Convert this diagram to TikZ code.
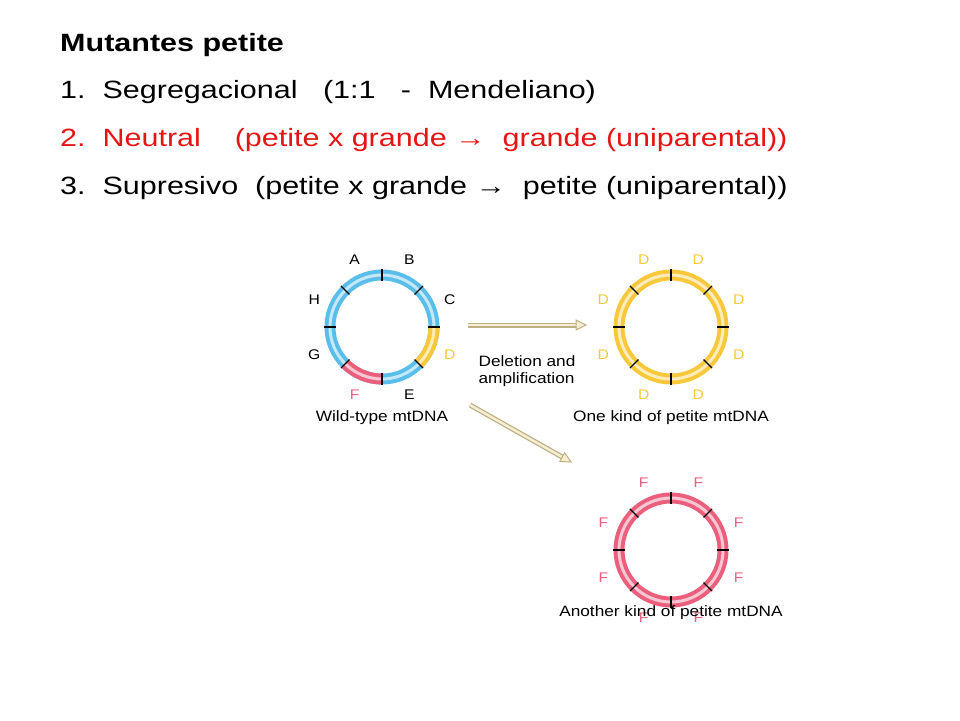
\documentclass[tikz,border=0pt]{standalone}
\usepackage{fontspec}
\setmainfont{Liberation Sans}
\usetikzlibrary{calc}
\definecolor{cb}{RGB}{90,190,235}
\definecolor{cy}{RGB}{248,200,60}
\definecolor{cp}{RGB}{235,95,125}
\definecolor{ar}{RGB}{190,175,130}
\definecolor{arf}{RGB}{245,238,210}
\definecolor{red1}{RGB}{230,20,20}
\begin{document}
\begin{tikzpicture}[x=1pt,y=1pt,
  line/.style={font=\fontsize{25}{28}\selectfont,anchor=base west,inner sep=0,xscale=1.22,transform shape},
  lab/.style={font=\fontsize{14}{16}\selectfont,inner sep=0,xscale=1.12,transform shape},
  captxt/.style={font=\fontsize{15}{17}\selectfont,inner sep=0,xscale=1.15,transform shape}]
\useasboundingbox (0,0) rectangle (960,-720);
\node[line,font=\fontsize{25}{28}\selectfont\bfseries] (t0) at (60,-51) {Mutantes petite};
\node[line] (t1) at (60,-98) {1.\ \ Segregacional\ \ \ (1:1\ \ \ -\ \ Mendeliano)};
\node[line,red1] (t2) at (60,-146) {2.\ \ Neutral\ \ \ \ (petite x grande → \ grande (uniparental))};
\node[line] (t3) at (60,-194) {3.\ \ Supresivo\ \ (petite x grande → \ petite (uniparental))};
\newcommand{\myseg}[4]{%
  \draw[line width=11,#4] ($#1+(#2:52)$) arc[start angle=#2,end angle=#3,radius=52];
  \draw[line width=3,#4!35] ($#1+(#2:52)$) arc[start angle=#2,end angle=#3,radius=52];}
\newcommand{\myticks}[1]{\foreach \a in {0,45,...,315}{\draw[line width=1.2] ($#1+(\a:46)$) -- ($#1+(\a:58)$);}}
\coordinate (w) at (382,-327);
\myseg{(w)}{0}{360}{cb}
\myseg{(w)}{0}{-45}{cy}
\myseg{(w)}{-90}{-135}{cp}
\myticks{(w)}
\foreach \l/\a in {A/112,B/68,C/22,G/-158,H/158,E/-68}{\node[lab] (w\l) at ($(w)+(\a:73)$) {\l};}
\node[lab,cy] (wD) at ($(w)+(-22:73)$) {D};
\node[lab,cp] (wF) at ($(w)+(-112:73)$) {F};
\node[captxt] (wc) at (382,-418) {Wild-type mtDNA};
\coordinate (y) at (671,-327);
\myseg{(y)}{0}{360}{cy}
\myticks{(y)}
\foreach \a in {22,68,112,158,-22,-68,-112,-158}{\node[lab,cy] at ($(y)+(\a:73)$) {D};}
\node[captxt] (yc) at (671,-418) {One kind of petite mtDNA};
\coordinate (p) at (671,-550);
\myseg{(p)}{0}{360}{cp}
\myticks{(p)}
\foreach \a in {22,68,112,158,-22,-68,-112,-158}{\node[lab,cp] at ($(p)+(\a:73)$) {F};}
\node[captxt] (pc) at (671,-613) {Another kind of petite mtDNA};
\coordinate (a1s) at (468,-325); \coordinate (a1e) at (586,-325);
\coordinate (a2s) at (470,-405); \coordinate (a2e) at (571,-462);
\foreach \s/\e in {a1s/a1e,a2s/a2e}{
  \draw[line width=5,ar] (\s) -- ($(\e)!9pt!(\s)$);
  \draw[line width=2.5,arf] (\s) -- ($(\e)!9pt!(\s)$);
  \draw[ar,fill=arf,line width=1] (\e) -- ($(\e)!10pt!(\s)!5pt!90:(\s)$) -- ($(\e)!10pt!(\s)!5pt!-90:(\s)$) -- cycle;
}
\node[captxt,align=left] (dl) at (527,-371) {Deletion and\\amplification};
\end{tikzpicture}
\end{document}
